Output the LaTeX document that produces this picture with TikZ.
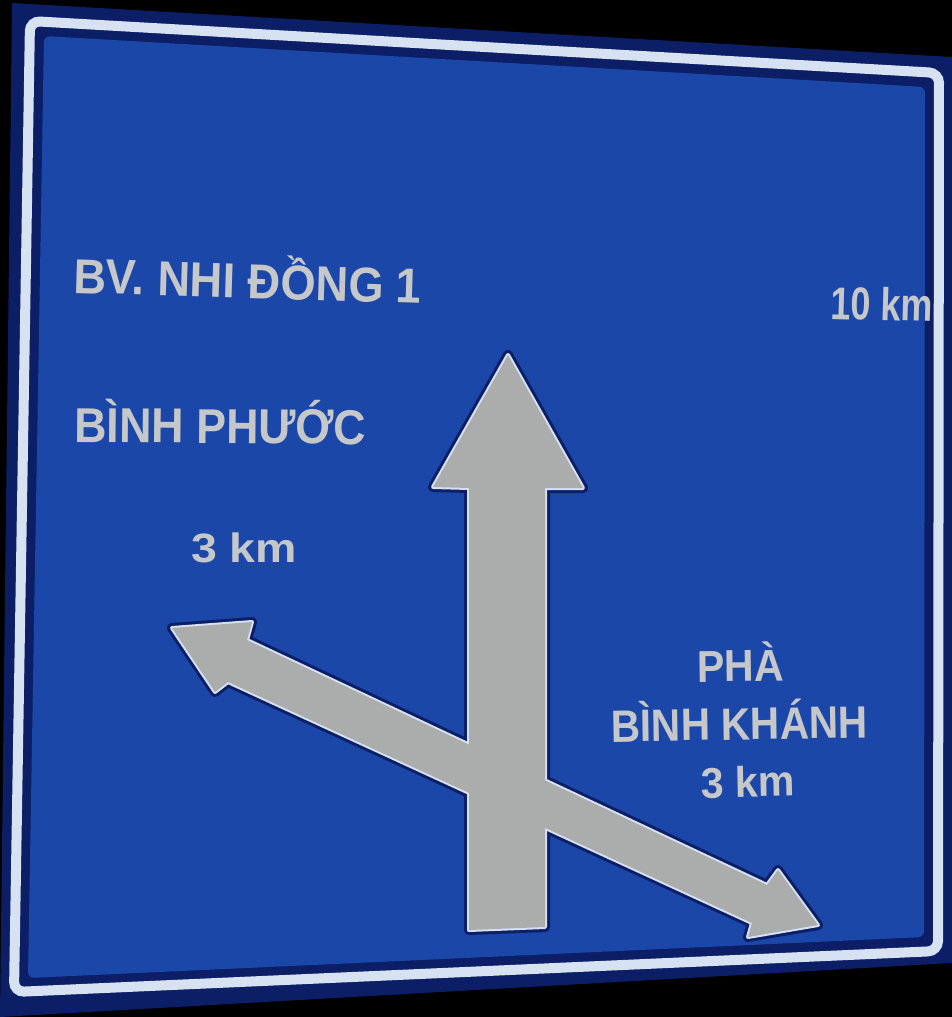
\documentclass[tikz,border=0pt]{standalone}
\usepackage{fontspec}
\setmainfont{Liberation Sans}
\usepackage{graphicx}
\definecolor{signblue}{HTML}{1B47A9}
\definecolor{navy}{HTML}{0B1E66}
\definecolor{rim}{HTML}{D6E2F2}
\definecolor{arrowgray}{HTML}{ABADAD}
\definecolor{txt}{HTML}{C6C7C9}
\newcommand\signlabel[3]{{\fontsize{#1}{#1}\selectfont\resizebox{#2}{\height}{#3}}}
\begin{document}
\begin{tikzpicture}[x=1pt,y=-1pt,
  signtext/.style={anchor=base west, inner sep=0pt, text=txt, font=\bfseries},
  halo/.style={draw=navy, line width=10pt, line join=round},
  edge/.style={draw=rim, line width=4pt, line join=round},
  body/.style={fill=arrowgray}]
\useasboundingbox (0,0) rectangle (952,1017);
\fill[black] (0,0) rectangle (952,1017);
% sign plate
\fill[navy] (12,3) -- (952,57) -- (952,963) -- (0,1017) -- cycle;
\draw[rim, line width=10pt, rounded corners=10pt] (30,21) -- (939,73) -- (938,951) -- (14,992) -- cycle;
\fill[signblue, rounded corners=6pt] (44,36) -- (925,87) -- (924,937) -- (28,978) -- cycle;
% arrows
\def\vertarrow{(508,355) -- (583,488) -- (545,488) -- (545,927) -- (469,930) -- (469,488) -- (433,487) -- cycle}
\def\diagarrow{(172,628) -- (252,622) -- (247,640) -- (767,885) -- (778,870) -- (818,925) -- (748,937) -- (752,923) -- (228,682) -- (215,692) -- cycle}
\path[halo] \diagarrow;
\path[halo] \vertarrow;
\path[edge] \diagarrow;
\path[edge] \vertarrow;
\path[body] \diagarrow;
\path[body] \vertarrow;
% texts
\node[signtext, rotate=-1.7] (t1) at (73,293) {\signlabel{49}{348pt}{BV. NHI ĐỒNG 1}};
\node[signtext, rotate=-1.6] (t2) at (830,319) {\signlabel{46}{102pt}{10 km}};
\node[signtext, rotate=-0.5] (t3) at (74,442) {\signlabel{49}{292pt}{BÌNH PHƯỚC}};
\node[signtext] (t4) at (191,562) {\signlabel{41}{106pt}{3 km}};
\node[signtext, rotate=0.7] (t5) at (697,682) {\signlabel{44.7}{87pt}{PHÀ}};
\node[signtext, rotate=0.9] (t6) at (611,742) {\signlabel{45.4}{257pt}{BÌNH KHÁNH}};
\node[signtext, rotate=1.2] (t7) at (701,798) {\signlabel{43}{94pt}{3 km}};
\end{tikzpicture}
\end{document}
